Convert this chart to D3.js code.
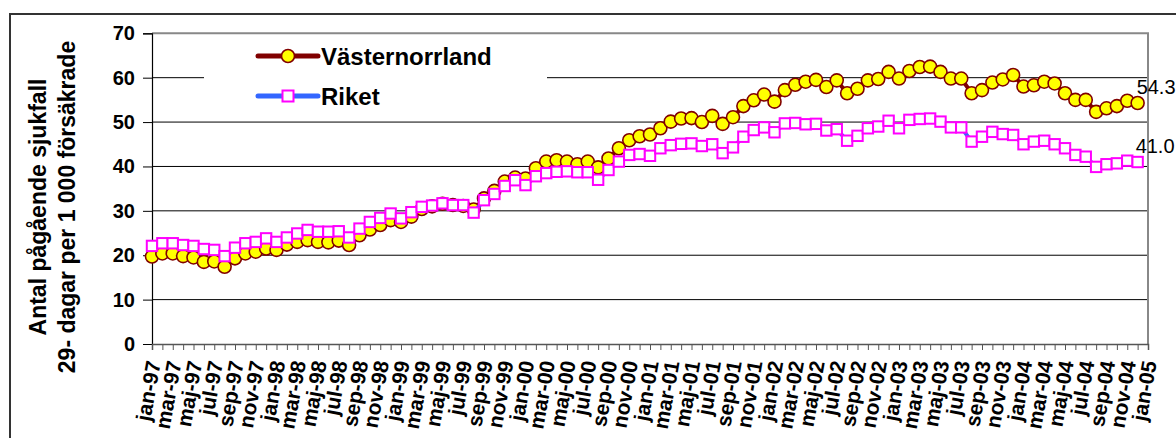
<!DOCTYPE html>
<html><head><meta charset="utf-8">
<script src="https://cdn.jsdelivr.net/npm/d3@7"></script>
<style>
body{margin:0;background:#fff;}
svg{display:block;font-family:"Liberation Sans",Arial,sans-serif;}
</style></head>
<body>
<svg id="c" width="1176" height="438"></svg>
<script>
const categories = [
"jan-97","feb-97","mar-97","apr-97","maj-97","jun-97","jul-97","aug-97","sep-97","okt-97","nov-97","dec-97",
"jan-98","feb-98","mar-98","apr-98","maj-98","jun-98","jul-98","aug-98","sep-98","okt-98","nov-98","dec-98",
"jan-99","feb-99","mar-99","apr-99","maj-99","jun-99","jul-99","aug-99","sep-99","okt-99","nov-99","dec-99",
"jan-00","feb-00","mar-00","apr-00","maj-00","jun-00","jul-00","aug-00","sep-00","okt-00","nov-00","dec-00",
"jan-01","feb-01","mar-01","apr-01","maj-01","jun-01","jul-01","aug-01","sep-01","okt-01","nov-01","dec-01",
"jan-02","feb-02","mar-02","apr-02","maj-02","jun-02","jul-02","aug-02","sep-02","okt-02","nov-02","dec-02",
"jan-03","feb-03","mar-03","apr-03","maj-03","jun-03","jul-03","aug-03","sep-03","okt-03","nov-03","dec-03",
"jan-04","feb-04","mar-04","apr-04","maj-04","jun-04","jul-04","aug-04","sep-04","okt-04","nov-04","dec-04",
"jan-05"];

const vasternorrland = [
19.7,20.4,20.4,19.8,19.5,18.5,18.6,17.4,19.3,20.4,20.8,21.5,
21.2,22.4,23.0,23.4,23.0,22.9,23.3,22.3,24.5,25.8,26.8,27.9,
27.5,28.7,30.4,31.0,31.6,31.3,31.1,30.3,32.8,34.5,36.6,37.5,
37.3,39.6,41.1,41.4,41.1,40.5,41.1,39.8,41.8,44.1,45.9,46.8,
47.2,48.6,50.1,50.8,50.9,50.0,51.4,49.6,51.1,53.6,54.9,56.2,
54.6,57.2,58.4,59.1,59.5,57.9,59.4,56.5,57.5,59.4,59.7,61.3,
59.8,61.5,62.4,62.5,61.3,59.8,59.8,56.5,57.2,58.9,59.6,60.6,
58.0,58.3,59.1,58.7,56.5,55.0,55.0,52.3,53.1,53.6,54.8,54.3];

const riket = [
22.1,22.7,22.7,22.3,22.1,21.4,21.2,19.8,21.7,22.7,23.0,23.8,
23.0,24.0,24.9,25.7,25.3,25.3,25.4,24.0,26.0,27.5,28.4,29.4,
28.3,29.7,30.9,31.2,31.7,31.3,31.3,29.6,32.4,33.8,35.6,36.9,
35.8,37.8,38.5,38.8,38.9,38.7,38.7,37.0,39.2,41.1,42.6,42.8,
42.4,44.1,44.8,45.1,45.2,44.6,45.0,43.0,44.3,46.7,48.2,48.8,
47.7,49.7,49.8,49.5,49.6,48.1,48.4,45.8,46.9,48.6,49.0,50.3,
48.6,50.5,50.7,50.8,50.1,48.8,48.8,45.6,46.7,47.8,47.3,47.1,
45.0,45.6,45.8,45.0,44.1,42.6,42.2,39.9,40.5,40.7,41.3,41.0];

const seriesNames = ["Västernorrland","Riket"];
const yTicks = [0,10,20,30,40,50,60,70];
const axisTitle = ["Antal pågående sjukfall","29- dagar per 1 000 försäkrade"];
const endLabels = ["54.3","41.0"];

const svg = d3.select("#c");
const L = 152, R = 1148, T = 33.3, B = 344;
const x = d3.scalePoint().domain(categories).range([L, R]).padding(0);
const y = d3.scaleLinear().domain([0,70]).range([B, T]);

// outer frame
svg.append("rect").attr("x",10).attr("y",14).attr("width",1200).attr("height",460)
  .attr("fill","none").attr("stroke","#333").attr("stroke-width",2);

// gridlines
svg.append("g").selectAll("line").data(yTicks.filter(d=>d>0 && d<70)).join("line")
  .attr("x1",L).attr("x2",R).attr("y1",d=>y(d)).attr("y2",d=>y(d))
  .attr("stroke","#000").attr("stroke-width",1);

// plot border top/right
svg.append("path").attr("d",`M${L},${y(70)}H${R}V${B}`).attr("fill","none")
  .attr("stroke","#888").attr("stroke-width",2);

// y axis
const ya = svg.append("g").attr("transform",`translate(${L},0)`)
  .call(d3.axisLeft(y).tickValues(yTicks).tickSize(9).tickPadding(8).tickFormat(d3.format("d")));
ya.select(".domain").attr("stroke","#000").attr("stroke-width",1.2);
ya.selectAll(".tick line").attr("stroke","#000");
ya.selectAll("text").attr("font-size",20).attr("font-weight","bold").attr("fill","#000")
  .attr("font-family","Liberation Sans, Arial, sans-serif");

// x axis
const xa = svg.append("g").attr("transform",`translate(0,${B})`)
  .call(d3.axisBottom(x).tickSize(6).tickFormat((d,i)=> i%2===0 ? d : ""));
xa.select(".domain").attr("stroke","#555").attr("stroke-width",1.5);
xa.selectAll(".tick line").attr("stroke","#555");
xa.selectAll("text").attr("font-size",21).attr("font-weight","bold").attr("fill","#000")
  .attr("font-family","Liberation Sans, Arial, sans-serif")
  .attr("text-anchor","end").attr("dy","0.35em").attr("y",0)
  .attr("transform","translate(1,17) rotate(-80)");

// axis title
const at = svg.append("text").attr("transform","translate(46,207) rotate(-90)")
  .attr("text-anchor","middle").attr("font-size",23).attr("font-weight","bold").attr("fill","#000");
at.append("tspan").attr("x",0).attr("dy",0).text(axisTitle[0]);
at.append("tspan").attr("x",0).attr("dy",29).text(axisTitle[1]);

// series
const line = d3.line().x((d,i)=>x(categories[i])).y(d=>y(d));
svg.append("path").datum(vasternorrland).attr("d",line).attr("fill","none")
  .attr("stroke","#800000").attr("stroke-width",4);
svg.append("g").selectAll("circle").data(vasternorrland).join("circle")
  .attr("cx",(d,i)=>x(categories[i])).attr("cy",d=>y(d)).attr("r",6.5)
  .attr("fill","#ffff00").attr("stroke","#800000").attr("stroke-width",1.6);

svg.append("path").datum(riket).attr("d",line).attr("fill","none")
  .attr("stroke","#3366ff").attr("stroke-width",4);
svg.append("g").selectAll("rect").data(riket).join("rect")
  .attr("x",(d,i)=>x(categories[i])-5.2).attr("y",d=>y(d)-5.2).attr("width",10.4).attr("height",10.4)
  .attr("fill","#fff").attr("stroke","#ff00ff").attr("stroke-width",2);

// end labels
const lastI = vasternorrland.length-1;
svg.append("text").attr("x",x(categories[lastI])-1).attr("y",y(vasternorrland[lastI])-9)
  .attr("font-size",20).attr("fill","#000").text(endLabels[0]);
svg.append("text").attr("x",x(categories[lastI])-2).attr("y",y(riket[lastI])-9)
  .attr("font-size",20).attr("fill","#000").text(endLabels[1]);

// legend
const lg = svg.append("g");
lg.append("rect").attr("x",204).attr("y",40).attr("width",343).attr("height",74).attr("fill","#fff");
const ly = [56, 96];
lg.append("line").attr("x1",258).attr("x2",318).attr("y1",ly[0]).attr("y2",ly[0])
  .attr("stroke","#800000").attr("stroke-width",5).attr("stroke-linecap","round");
lg.append("circle").attr("cx",288).attr("cy",ly[0]).attr("r",6.5)
  .attr("fill","#ffff00").attr("stroke","#800000").attr("stroke-width",1.6);
lg.append("line").attr("x1",258).attr("x2",318).attr("y1",ly[1]).attr("y2",ly[1])
  .attr("stroke","#3366ff").attr("stroke-width",5).attr("stroke-linecap","round");
lg.append("rect").attr("x",288-5.5).attr("y",ly[1]-5.5).attr("width",11).attr("height",11)
  .attr("fill","#fff").attr("stroke","#ff00ff").attr("stroke-width",2);
lg.selectAll("text.lt").data(seriesNames).join("text").attr("class","lt")
  .attr("x",321).attr("y",(d,i)=>ly[i]+9).attr("font-size",24).attr("font-weight","bold")
  .attr("fill","#000").text(d=>d);
</script>
</body></html>
